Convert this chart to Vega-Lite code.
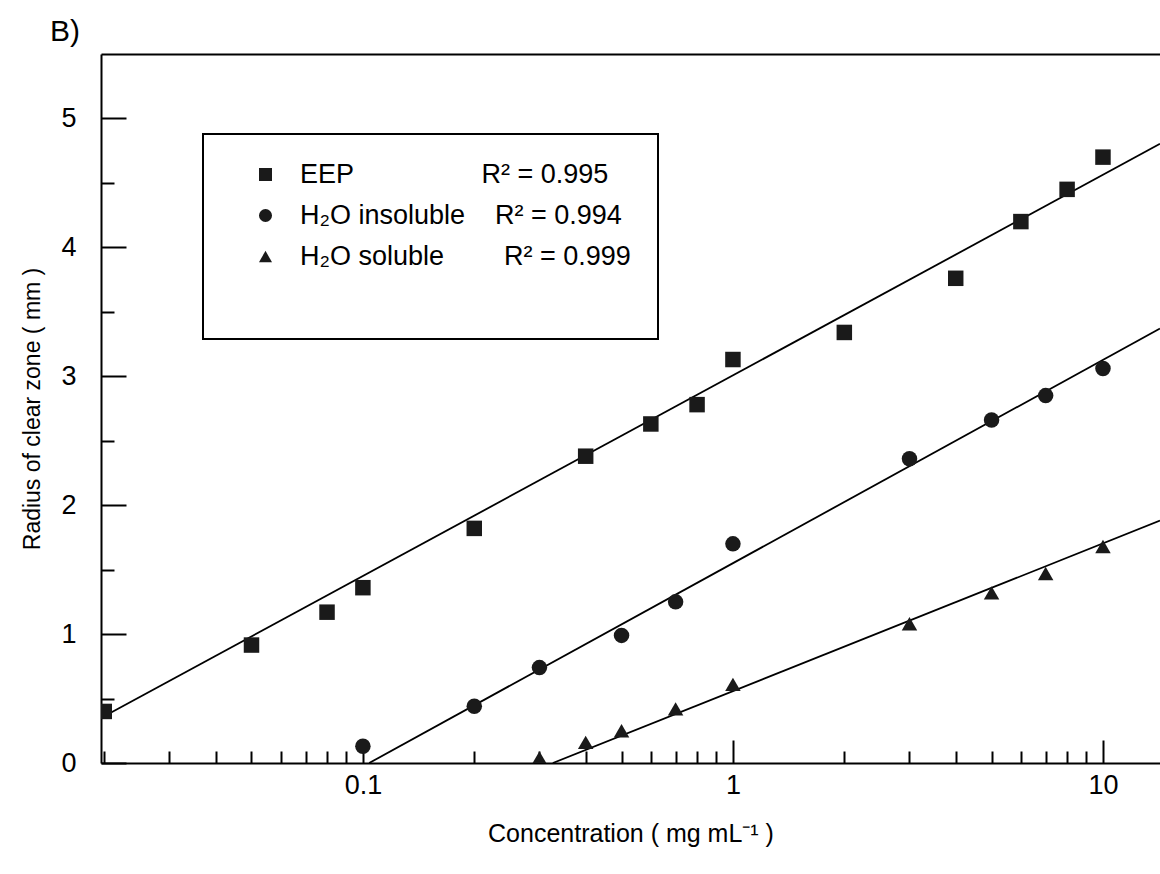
{
  "$schema": "https://vega.github.io/schema/vega-lite/v6.json",
  "width": 1059,
  "height": 709,
  "autosize": {"type": "none"},
  "padding": {"left": 101, "top": 54, "right": 0, "bottom": 111},
  "background": "white",
  "config": {
    "view": {"stroke": null},
    "font": "Liberation Sans",
    "axis": {
      "domainColor": "black",
      "domainWidth": 2,
      "tickColor": "black",
      "tickWidth": 2,
      "labelColor": "black",
      "titleColor": "black",
      "grid": false,
      "labelFont": "Liberation Sans",
      "titleFont": "Liberation Sans",
      "titleFontWeight": "normal"
    },
    "legend": {"strokeWidth": 2}
  },
  "title": {
    "text": "B)",
    "anchor": "start",
    "frame": "group",
    "dx": -51,
    "offset": -17,
    "fontSize": 30,
    "fontWeight": "normal",
    "font": "Liberation Sans",
    "baseline": "alphabetic",
    "color": "black"
  },
  "layer": [
    {
      "data": {
        "values": [
          {"series": "EEP", "conc": 0.0196, "radius": 0.349},
          {"series": "EEP", "conc": 14.26, "radius": 4.803},
          {"series": "H₂O insoluble", "conc": 0.104, "radius": 0},
          {"series": "H₂O insoluble", "conc": 14.26, "radius": 3.37},
          {"series": "H₂O soluble", "conc": 0.326, "radius": 0},
          {"series": "H₂O soluble", "conc": 14.26, "radius": 1.88}
        ]
      },
      "mark": {"type": "line", "color": "black", "strokeWidth": 1.8, "clip": true},
      "encoding": {
        "x": {
          "field": "conc",
          "type": "quantitative",
          "scale": {"type": "log", "domain": [0.0196, 14.26], "nice": false, "zero": false},
          "axis": {"orient": "top", "labels": false, "ticks": false, "title": null, "domainWidth": 2}
        },
        "y": {
          "field": "radius",
          "type": "quantitative",
          "scale": {"domain": [0, 5.5], "nice": false, "zero": false}
        },
        "detail": {"field": "series", "type": "nominal"}
      }
    },
    {
      "data": {
        "values": [
          {"series": "EEP", "conc": 0.02, "radius": 0.40},
          {"series": "EEP", "conc": 0.05, "radius": 0.915},
          {"series": "EEP", "conc": 0.08, "radius": 1.17},
          {"series": "EEP", "conc": 0.1, "radius": 1.36},
          {"series": "EEP", "conc": 0.2, "radius": 1.82},
          {"series": "EEP", "conc": 0.4, "radius": 2.38},
          {"series": "EEP", "conc": 0.6, "radius": 2.63},
          {"series": "EEP", "conc": 0.8, "radius": 2.78},
          {"series": "EEP", "conc": 1, "radius": 3.13},
          {"series": "EEP", "conc": 2, "radius": 3.34},
          {"series": "EEP", "conc": 4, "radius": 3.76},
          {"series": "EEP", "conc": 6, "radius": 4.20},
          {"series": "EEP", "conc": 8, "radius": 4.45},
          {"series": "EEP", "conc": 10, "radius": 4.70},
          {"series": "H₂O insoluble", "conc": 0.1, "radius": 0.13},
          {"series": "H₂O insoluble", "conc": 0.2, "radius": 0.44},
          {"series": "H₂O insoluble", "conc": 0.3, "radius": 0.74},
          {"series": "H₂O insoluble", "conc": 0.5, "radius": 0.99},
          {"series": "H₂O insoluble", "conc": 0.7, "radius": 1.25},
          {"series": "H₂O insoluble", "conc": 1, "radius": 1.70},
          {"series": "H₂O insoluble", "conc": 3, "radius": 2.36},
          {"series": "H₂O insoluble", "conc": 5, "radius": 2.66},
          {"series": "H₂O insoluble", "conc": 7, "radius": 2.85},
          {"series": "H₂O insoluble", "conc": 10, "radius": 3.06},
          {"series": "H₂O soluble", "conc": 0.3, "radius": 0.04},
          {"series": "H₂O soluble", "conc": 0.4, "radius": 0.16},
          {"series": "H₂O soluble", "conc": 0.5, "radius": 0.25},
          {"series": "H₂O soluble", "conc": 0.7, "radius": 0.42},
          {"series": "H₂O soluble", "conc": 1, "radius": 0.61},
          {"series": "H₂O soluble", "conc": 3, "radius": 1.08},
          {"series": "H₂O soluble", "conc": 5, "radius": 1.32},
          {"series": "H₂O soluble", "conc": 7, "radius": 1.47},
          {"series": "H₂O soluble", "conc": 10, "radius": 1.68}
        ]
      },
      "mark": {"type": "point", "filled": true, "opacity": 1, "color": "#1a1a1a", "clip": true},
      "encoding": {
        "x": {
          "field": "conc",
          "type": "quantitative",
          "scale": {"type": "log", "domain": [0.0196, 14.26], "nice": false, "zero": false},
          "axis": {
            "orient": "bottom",
            "values": [0.02, 0.03, 0.04, 0.05, 0.06, 0.07, 0.08, 0.09, 0.1, 0.2, 0.3, 0.4, 0.5, 0.6, 0.7, 0.8, 0.9, 1, 2, 3, 4, 5, 6, 7, 8, 9, 10],
            "tickSize": {"condition": {"test": "datum.value == 0.1 || datum.value == 1 || datum.value == 10", "value": -23}, "value": -12},
            "labelExpr": "datum.value == 0.1 ? '0.1' : datum.value == 1 ? '1' : datum.value == 10 ? '10' : ''",
            "labelFontSize": 27,
            "labelPadding": 32,
            "labelFlush": false,
            "labelOverlap": false,
            "title": "Concentration ( mg mL⁻¹ )",
            "titleFontSize": 25,
            "titlePadding": 12
          }
        },
        "y": {
          "field": "radius",
          "type": "quantitative",
          "scale": {"domain": [0, 5.5], "nice": false, "zero": false},
          "axis": {
            "values": [0, 0.5, 1, 1.5, 2, 2.5, 3, 3.5, 4, 4.5, 5],
            "tickSize": {"condition": {"test": "datum.value % 1 == 0", "value": -25}, "value": -13},
            "labelExpr": "datum.value % 1 == 0 ? format(datum.value, 'd') : ''",
            "labelFontSize": 27,
            "labelPadding": 50,
            "labelFlush": false,
            "labelOverlap": false,
            "title": "Radius of clear zone ( mm )",
            "titleFontSize": 23,
            "titlePadding": 16
          }
        },
        "shape": {
          "field": "series",
          "type": "nominal",
          "scale": {"domain": ["EEP", "H₂O insoluble", "H₂O soluble"], "range": ["square", "circle", "triangle-up"]},
          "legend": {
            "orient": "none",
            "legendX": 102,
            "legendY": 80,
            "title": " ",
            "titleOrient": "bottom",
            "titleFontSize": 30,
            "titlePadding": 12,
            "strokeColor": "black",
            "padding": 27,
            "symbolOffset": 22,
            "symbolSize": 170,
            "symbolFillColor": "#1a1a1a",
            "symbolStrokeWidth": 0,
            "labelFont": "Liberation Sans",
            "labelFontSize": 27,
            "labelColor": "black",
            "labelOffset": 21,
            "labelLimit": 600,
            "rowPadding": 13,
            "labelExpr": "datum.label == 'EEP' ? 'EEP\u00a0\u00a0\u00a0\u00a0\u00a0\u00a0\u00a0\u00a0\u00a0\u00a0\u00a0\u00a0\u00a0\u00a0\u00a0\u00a0\u00a0R² = 0.995' : datum.label == 'H₂O insoluble' ? 'H₂O insoluble\u00a0\u00a0\u00a0\u00a0R² = 0.994\u00a0\u00a0' : 'H₂O soluble\u00a0\u00a0\u00a0\u00a0\u00a0\u00a0\u00a0\u00a0R² = 0.999'"
          }
        },
        "size": {"value": 240}
      }
    }
  ],
  "resolve": {"axis": {"x": "independent"}}
}
